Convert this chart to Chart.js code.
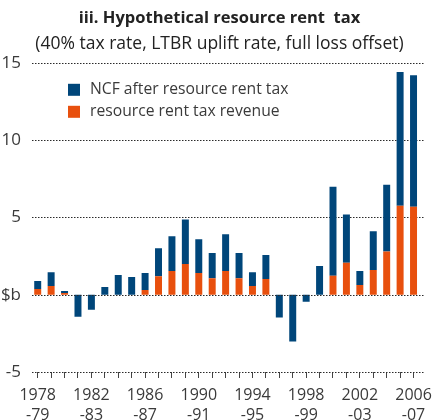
<!DOCTYPE html>
<html>
<head>
<meta charset="utf-8">
<script src="https://cdn.jsdelivr.net/npm/chart.js@4.4.0/dist/chart.umd.min.js"></script>
<style>
  html,body{margin:0;padding:0;background:#fff;}
  #wrap{width:439px;height:420px;position:relative;}
</style>
</head>
<body>
<div id="wrap"><canvas id="c"></canvas></div>
<script>
const years=['1978','1979','1980','1981','1982','1983','1984','1985','1986','1987','1988','1989','1990','1991','1992','1993','1994','1995','1996','1997','1998','1999','2000','2001','2002','2003','2004','2005','2006'];
const yearEnds=['-79','-80','-81','-82','-83','-84','-85','-86','-87','-88','-89','-90','-91','-92','-93','-94','-95','-96','-97','-98','-99','-00','-01','-02','-03','-04','-05','-06','-07'];
// NCF after resource rent tax ($b), the part stacked above the revenue
const ncfAfterTax=[0.51,0.90,0.13,-1.42,-0.98,0.49,1.27,1.14,1.10,1.80,2.25,2.89,2.19,1.62,2.38,1.62,0.90,1.55,-1.48,-3.03,-0.45,1.85,5.76,3.12,0.91,2.51,4.31,8.64,8.51];
// resource rent tax revenue ($b)
const taxRevenue=[0.37,0.56,0.11,0,0,0,0,0,0.30,1.20,1.53,1.98,1.40,1.07,1.53,1.07,0.56,1.01,0,0,0,0,1.22,2.06,0.62,1.60,2.80,5.76,5.69];
const yTicks=[-5,0,5,10,15];

const BLUE='#00467a';
const ORANGE='#e8500e';
const FONT='"Open Sans", sans-serif';
const TEXT='#3a3a3a';

const legendItems=[
  {label:'NCF after resource rent tax',color:BLUE},
  {label:'resource rent tax revenue',color:ORANGE}
];

function dottedLine(chart,value){
  const ctx=chart.ctx;
  const area=chart.chartArea;
  const y=Math.round(chart.scales.y.getPixelForValue(value))+0.5;
  ctx.save();
  ctx.strokeStyle='#2a2a2a';
  ctx.lineWidth=1;
  ctx.setLineDash([1.5,1.5]);
  ctx.beginPath();
  ctx.moveTo(area.left+1,y);
  ctx.lineTo(area.right+4,y);
  ctx.stroke();
  ctx.restore();
}

// dotted horizontal grid; the zero line goes over the bars
const dottedGrid={
  id:'dottedGrid',
  beforeDatasetsDraw(chart){
    yTicks.forEach(v=>{if(v!==0)dottedLine(chart,v);});
  },
  afterDatasetsDraw(chart){
    dottedLine(chart,0);
  }
};

const insideLegend={
  id:'insideLegend',
  afterDraw(chart){
    const {ctx,chartArea}=chart;
    const x=chartArea.left+37;
    let y=chartArea.top+21;
    ctx.save();
    ctx.font='15.7px '+FONT;
    ctx.textBaseline='middle';
    ctx.textAlign='left';
    legendItems.forEach(item=>{
      ctx.fillStyle=item.color;
      ctx.fillRect(x,y,12,12);
      ctx.fillStyle=TEXT;
      ctx.fillText(item.label,x+22,y+6);
      y+=22;
    });
    ctx.restore();
  }
};

new Chart(document.getElementById('c'),{
  type:'bar',
  data:{
    labels:years.map((y,i)=>[y,yearEnds[i]]),
    datasets:[
      {label:'resource rent tax revenue',data:taxRevenue,backgroundColor:ORANGE,barPercentage:0.52,categoryPercentage:1},
      {label:'NCF after resource rent tax',data:ncfAfterTax,backgroundColor:BLUE,barPercentage:0.52,categoryPercentage:1}
    ]
  },
  options:{
    responsive:true,
    maintainAspectRatio:false,
    animation:false,
    layout:{padding:{left:0,right:0,top:0,bottom:0}},
    plugins:{
      legend:{display:false},
      tooltip:{enabled:false},
      title:{display:true,text:'iii. Hypothetical resource rent  tax',color:'#222',font:{family:FONT,size:16.5,weight:'bold'},padding:{top:8,bottom:6}},
      subtitle:{display:true,text:'(40% tax rate, LTBR uplift rate, full loss offset)',color:'#222',font:{family:FONT,size:17.5},padding:{top:0,bottom:8}}
    },
    scales:{
      x:{
        stacked:true,
        offset:true,
        afterFit(scale){scale.height=48;},
        border:{display:false},
        grid:{offset:false,drawOnChartArea:false,drawTicks:true,tickLength:6,color:'#444',lineWidth:1},
        ticks:{
          autoSkip:false,maxRotation:0,color:TEXT,padding:7,
          font:{family:FONT,size:16,lineHeight:1.25},
          callback(v,i){return i%4===0?this.getLabelForValue(v):'';}
        }
      },
      y:{
        stacked:true,
        min:-5,max:15,
        afterBuildTicks(scale){scale.ticks=yTicks.map(v=>({value:v}));},
        afterFit(scale){scale.width=31;},
        border:{display:false},
        grid:{display:false},
        ticks:{color:TEXT,padding:2,font:{family:FONT,size:17},callback:v=>v===0?'$b':v}
      },
      // empty right-hand strip, keeps the plot off the right edge
      yRight:{
        position:'right',
        afterFit(scale){scale.width=10;},
        border:{display:false},
        grid:{display:false},
        ticks:{display:false}
      }
    }
  },
  plugins:[dottedGrid,insideLegend]
});
</script>
</body>
</html>
